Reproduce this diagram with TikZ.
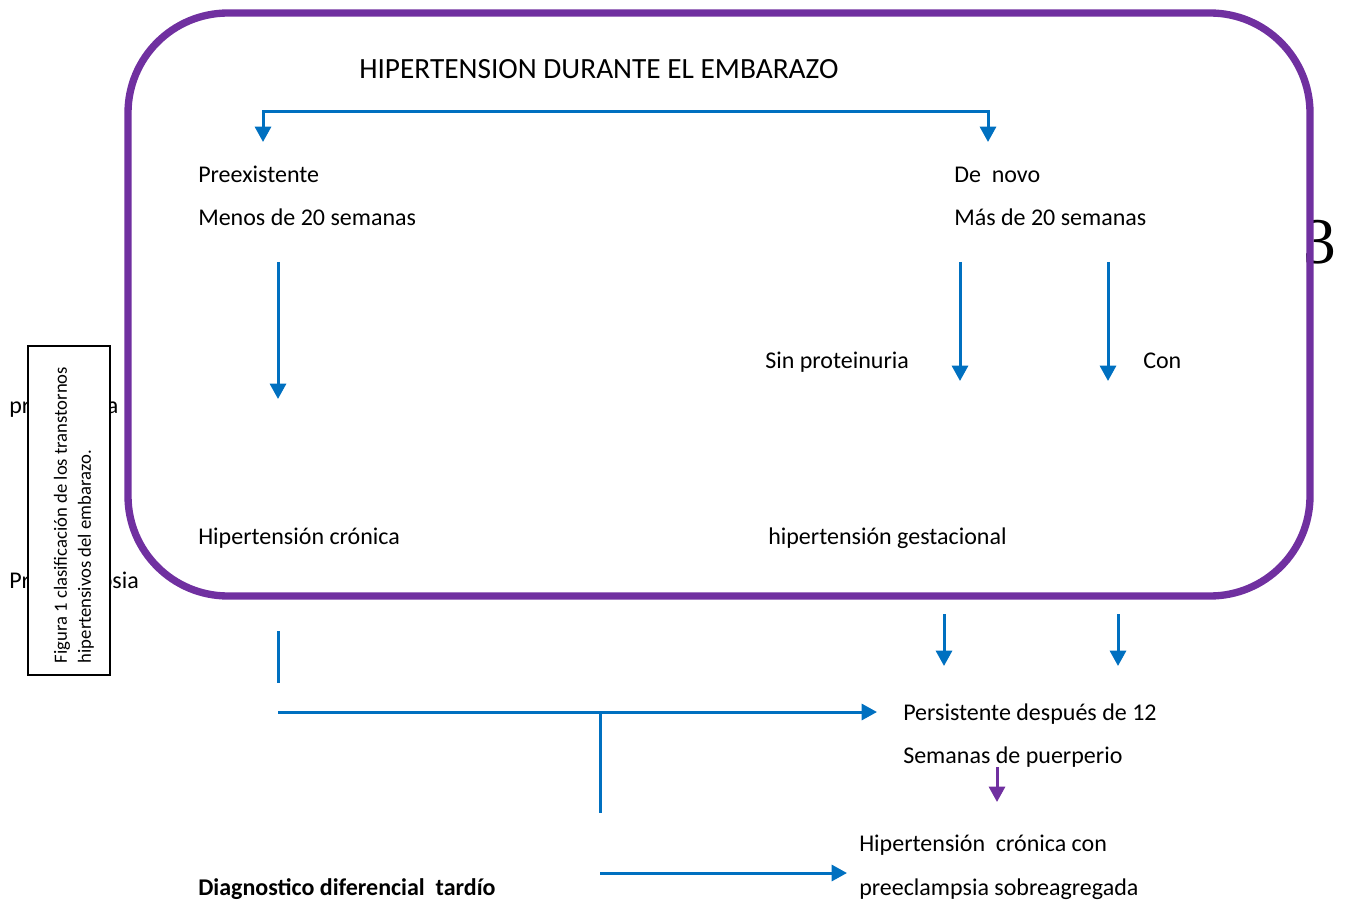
\documentclass[tikz,border=0pt]{standalone}
\usepackage{fontspec}
\setmainfont{Carlito}
\newfontfamily\serifnum{Liberation Serif}
\usetikzlibrary{arrows.meta}
\definecolor{bl}{HTML}{0070C0}
\definecolor{pu}{HTML}{7030A0}
\begin{document}
\begin{tikzpicture}[x=0.75pt,y=-0.75pt,
  txt/.style={anchor=base west,inner sep=0pt,font=\fontsize{18}{22}\selectfont},
  tip/.style={-{Triangle[length=11.5pt,width=12pt]}},
  conn/.style={draw=bl,line width=2.25pt},
  arr/.style={conn,tip},
  parr/.style={draw=pu,line width=2.25pt,tip},
  frame/.style={draw=pu,line width=5.5pt,rounded corners=75pt},
  capbox/.style={draw=black,line width=1.1pt,fill=white}]
\useasboundingbox (0,0) rectangle (1345,902);

% hidden texts behind caption box
\node[txt] (hid1) at (9,413) {proteinuria};
\node[txt] (hid2) at (9,588) {Preeclampsia};

% caption box
\draw[capbox] (28,346) rectangle (110,675);
\node[rotate=90,align=left,inner sep=0pt,font=\fontsize{14}{18}\selectfont] (cap) at (74,515)
  {Figura 1 clasificación de los transtornos\\hipertensivos del embarazo.};

% stray number
\node[anchor=base,inner sep=0pt,font=\serifnum\fontsize{49}{50}\selectfont] (three) at (1320,263) {3};

% frame
\draw[frame] (128,13) rectangle (1310,596);

% texts
\node[anchor=base west,inner sep=0pt,font=\fontsize{22}{26}\selectfont] (title) at (359,79) {HIPERTENSION DURANTE EL EMBARAZO};
\node[txt] (pre) at (198,183) {Preexistente};
\node[txt] (menos) at (198,226) {Menos de 20 semanas};
\node[txt] (novo) at (954,183) {De\ \ novo};
\node[txt] (mas) at (954,226) {Más de 20 semanas};
\node[txt] (sin) at (765,368) {Sin proteinuria};
\node[txt] (con) at (1143,368) {Con};
\node[txt] (hc) at (198,544) {Hipertensión crónica};
\node[txt] (hg) at (768,544) {hipertensión gestacional};
\node[txt] (pers) at (903,720) {Persistente después de 12};
\node[txt] (sem) at (903,763) {Semanas de puerperio};
\node[txt] (hcc) at (859,851) {Hipertensión\ \ crónica con};
\node[txt] (pse) at (859,895) {preeclampsia sobreagregada};
\node[txt,font=\fontsize{18}{22}\selectfont\bfseries] (diag) at (198,895) {Diagnostico diferencial\ \ tardío};

% coordinates
\coordinate (tL) at (263,142);
\coordinate (sL) at (263,112);
\coordinate (sR) at (988,112);
\coordinate (tR) at (988,142);
\coordinate (a1s) at (278,262);
\coordinate (a1e) at (278,399);
\coordinate (a2s) at (960,262);
\coordinate (a2e) at (960,381);
\coordinate (a3s) at (1108,262);
\coordinate (a3e) at (1108,381);
\coordinate (l1s) at (278,631);
\coordinate (l1e) at (278,683);
\coordinate (h1s) at (278,712);
\coordinate (h1e) at (877,712);
\coordinate (j1) at (600,712);
\coordinate (j2) at (600,813);
\coordinate (a4s) at (944,614);
\coordinate (a4e) at (944,666);
\coordinate (a5s) at (1118,614);
\coordinate (a5e) at (1118,666);
\coordinate (p1s) at (997,767);
\coordinate (p1e) at (997,802);
\coordinate (h2s) at (600,873);
\coordinate (h2e) at (847,873);

% connectors
\draw[conn,{Triangle[length=11.5pt,width=12pt]}-{Triangle[length=11.5pt,width=12pt]}] (tL) -- (sL) -- (sR) -- (tR);
\draw[arr] (a1s) -- (a1e);
\draw[arr] (a2s) -- (a2e);
\draw[arr] (a3s) -- (a3e);
\draw[conn] (l1s) -- (l1e);
\draw[arr] (h1s) -- (h1e);
\draw[conn] (j1) -- (j2);
\draw[arr] (a4s) -- (a4e);
\draw[arr] (a5s) -- (a5e);
\draw[parr] (p1s) -- (p1e);
\draw[arr] (h2s) -- (h2e);
\end{tikzpicture}
\end{document}
